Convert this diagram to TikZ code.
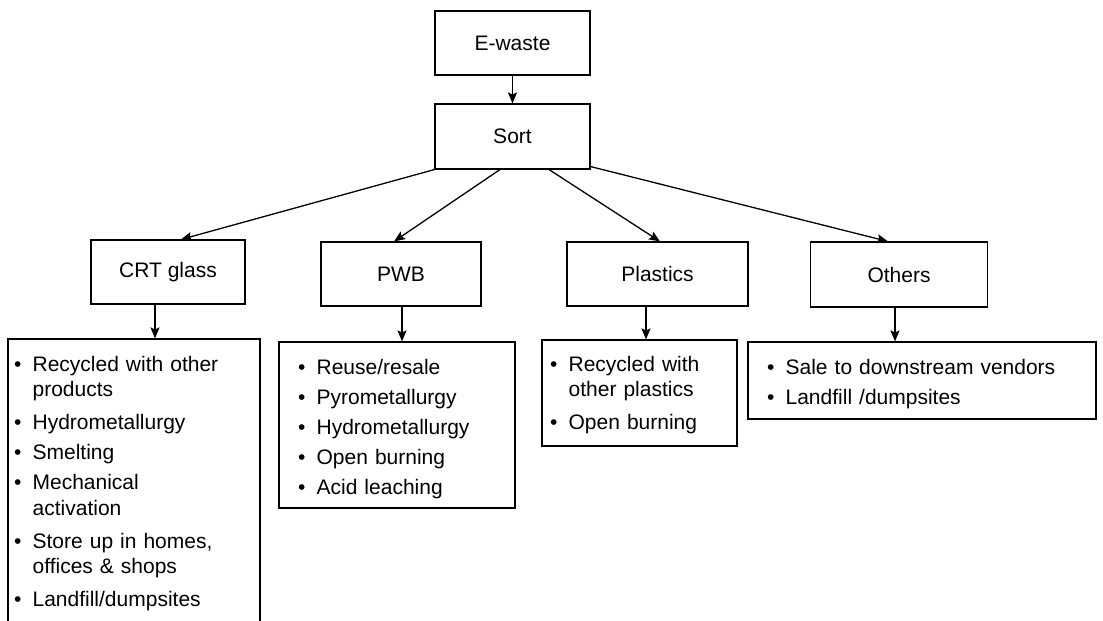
\documentclass[tikz,border=0pt]{standalone}
\usepackage{fontspec}
\setmainfont{Liberation Sans}
\usetikzlibrary{arrows.meta}
\newcommand{\litem}[2][0pt]{\hangindent=18.5pt\hangafter=1\leavevmode\makebox[18.5pt][l]{\textbullet}#2\par\vspace{#1}}

\begin{document}
\begin{tikzpicture}[->,>={Stealth[length=11pt,width=9pt,inset=2pt]},x=1pt,y=-1pt,line width=1.3pt]
  \tikzstyle{block}=[rectangle,draw,line width=1.1pt,minimum width=155pt,minimum height=64pt,font=\fontsize{21}{25.5}\selectfont]
  \tikzstyle{listbox}=[rectangle,draw,line width=1.1pt]
  \tikzstyle{listtext}=[anchor=north west,inner sep=0pt,text width=320pt,font=\fontsize{21}{25.5}\selectfont,execute at begin node={\raggedright\setlength{\parskip}{4.5pt}}]

  \useasboundingbox (0,0) rectangle (1103,621);

  \node[block] (ewaste) at (512.5,43) {E-waste};
  \node[block,minimum height=65pt] (sort) at (512.5,136.5) {Sort};
  \node[block,minimum width=154pt] (crt) at (168,272) {CRT glass};
  \node[block,minimum width=160pt] (pwb) at (401,274) {PWB};
  \node[block,minimum width=181pt] (plastics) at (657.5,274) {Plastics};
  \node[block,minimum width=177pt,minimum height=65pt] (others) at (899,274.5) {Others};

  \node[listbox,minimum width=252pt,minimum height=293pt] (crtlist) at (134,485.5) {};
  \node[listbox,minimum width=236pt,minimum height=166pt] (pwblist) at (397,425) {};
  \node[listbox,minimum width=195pt,minimum height=106pt] (plasticslist) at (639.5,393) {};
  \node[listbox,minimum width=348pt,minimum height=77pt] (otherslist) at (922,380.5) {};

  \node[listtext] (crtitems) at (13.5,355.5) {\litem[3pt]{Recycled with other\newline products}\litem{Hydrometallurgy}\litem{Smelting}\litem[3pt]{Mechanical\newline activation}\litem[3pt]{Store up in homes,\newline offices \& shops}\litem{Landfill/dumpsites}};
  \node[listtext] (pwbitems) at (297.5,358.5) {\litem{Reuse/resale}\litem{Pyrometallurgy}\litem{Hydrometallurgy}\litem{Open burning}\litem{Acid leaching}};
  \node[listtext] (plasticsitems) at (549.5,355.5) {\litem[3pt]{Recycled with\newline other plastics}\litem{Open burning}};
  \node[listtext] (othersitems) at (766.5,358.5) {\litem{Sale to downstream vendors}\litem{Landfill /dumpsites}};

  \draw (ewaste) -- (sort);
  \draw (sort.south west) -- ([xshift=13pt]crt.north);
  \draw ([xshift=-12.5pt]sort.south) -- ([xshift=-7pt]pwb.north);
  \draw ([xshift=36.5pt]sort.south) -- ([xshift=2.5pt]plastics.north);
  \draw ([yshift=3pt]sort.south east) -- ([xshift=-11pt]others.north);

  \draw ([xshift=-13pt]crt.south) -- ([xshift=-13pt]crt.south |- crtlist.north);
  \draw ([xshift=1pt]pwb.south) -- ([xshift=1pt]pwb.south |- pwblist.north);
  \draw ([xshift=-11.5pt]plastics.south) -- ([xshift=-11.5pt]plastics.south |- plasticslist.north);
  \draw ([xshift=-4pt]others.south) -- ([xshift=-4pt]others.south |- otherslist.north);

\end{tikzpicture}
\end{document}
